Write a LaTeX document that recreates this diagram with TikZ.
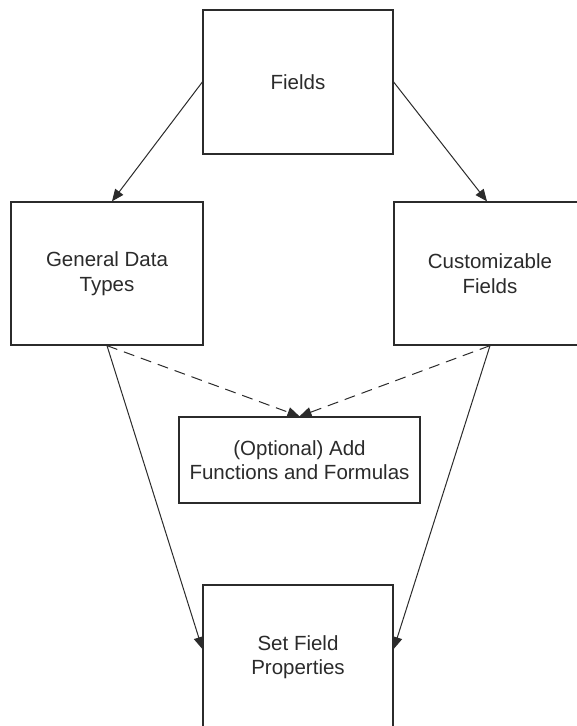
\documentclass[tikz,border=0pt]{standalone}
\usepackage{fontspec}
\setmainfont{Liberation Sans}
\usetikzlibrary{arrows.meta}
\definecolor{ink}{HTML}{2B2B2B}
\begin{document}
\begin{tikzpicture}[x=1pt,y=-1pt,
  box/.style={draw=ink,line width=1.3pt,fill=white,align=center,text=ink,
    font=\fontsize{20.5}{24.5}\selectfont,inner sep=0pt},
  conn/.style={draw=ink,line width=1pt,-{Triangle[length=12pt,width=10pt]}},
  dconn/.style={conn,dash pattern=on 11pt off 7pt}]
\useasboundingbox (0,0) rectangle (577,726);
\clip (0,0) rectangle (577,726);
\fill[white] (0,0) rectangle (577,726);
\node[box,minimum width=190pt,minimum height=144pt] (fields) at (298,82) {Fields};
\node[box,minimum width=192pt,minimum height=143pt] (gdt) at (107,273.5) {General Data\\Types};
\node[box,minimum width=192pt,minimum height=143pt] (cf) at (490,273.5) {Customizable\\Fields};
\node[box,minimum width=241pt,minimum height=86pt] (opt) at (299.5,460) {(Optional) Add\\Functions and Formulas};
\node[box,minimum width=190pt,minimum height=144pt] (sfp) at (298,657) {Set Field\\Properties};
\draw[conn] (fields.west) -- ([xshift=5pt]gdt.north);
\draw[conn] (fields.east) -- ([xshift=-3pt]cf.north);
\draw[dconn] (gdt.south) -- (opt.north);
\draw[dconn] (cf.south) -- (opt.north);
\draw[conn] (gdt.south) -- ([yshift=8pt]sfp.west);
\draw[conn] (cf.south) -- ([yshift=8pt]sfp.east);
\end{tikzpicture}
\end{document}
